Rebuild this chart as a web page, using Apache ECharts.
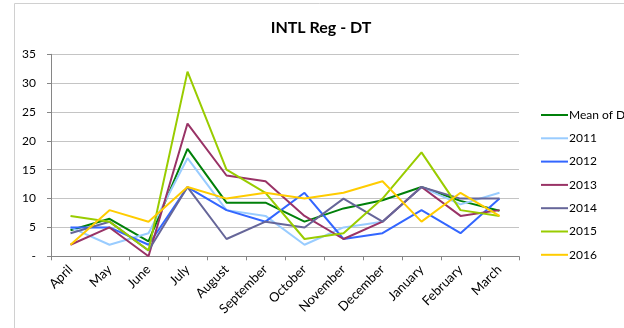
<!DOCTYPE html>
<html>
<head>
<meta charset="utf-8">
<script src="https://cdn.jsdelivr.net/npm/echarts@6/dist/echarts.min.js"></script>
<style>
  html, body { margin: 0; padding: 0; background: #fff; }
  #chart { width: 624px; height: 328px; }
</style>
</head>
<body>
<div id="chart"></div>
<script>
// Monthly values by fiscal year, April to March
const months = ['April', 'May', 'June', 'July', 'August', 'September', 'October',
                'November', 'December', 'January', 'February', 'March'];
const meanOfDT = [4.5, 6.5, 2.6, 18.6, 9.3, 9.3, 6.0, 8.3, 9.7, 12.0, 9.6, 7.9];
const y2011 = [5, 2, 4, 17, 8, 7, 2, 5, 6, 12, 9, 11];
const y2012 = [5, 5, 2, 12, 8, 6, 11, 3, 4, 8, 4, 10];
const y2013 = [2, 5, 0, 23, 14, 13, 7, 3, 6, 12, 7, 8];
const y2014 = [4, 6, 1, 12, 3, 6, 5, 10, 6, 12, 10, 10];
const y2015 = [7, 6, 1, 32, 15, 11, 3, 4, 10, 18, 8, 7];
const y2016 = [2, 8, 6, 12, 10, 11, 10, 11, 13, 6, 11, 7];
const yTicks = [0, 5, 10, 15, 20, 25, 30, 35];

const FONT = 'Lato, "Open Sans", sans-serif';

const seriesDefs = [
  { name: 'Mean of DT', data: meanOfDT, color: '#00800a' },
  { name: '2011', data: y2011, color: '#99ccff' },
  { name: '2012', data: y2012, color: '#3366ff' },
  { name: '2013', data: y2013, color: '#993366' },
  { name: '2014', data: y2014, color: '#666699' },
  { name: '2015', data: y2015, color: '#99cc00' },
  { name: '2016', data: y2016, color: '#ffcc00' }
];

const chart = echarts.init(document.getElementById('chart'), null, { renderer: 'canvas' });

chart.setOption({
  animation: false,
  backgroundColor: '#ffffff',
  textStyle: { fontFamily: FONT },
  title: {
    text: 'INTL Reg - DT',
    left: 316,
    top: 15,
    textAlign: 'center',
    textStyle: { fontFamily: FONT, fontSize: 16, fontWeight: 'bold', color: '#000' }
  },
  graphic: [{
    type: 'rect',
    shape: { x: 14.5, y: 3.5, width: 700, height: 400 },
    style: { fill: 'none', stroke: '#d0d0d0', lineWidth: 1 },
    silent: true,
    z: -1
  }],
  legend: {
    orient: 'vertical',
    left: 536,
    top: 104,
    itemWidth: 27,
    itemHeight: 2,
    itemGap: 11.3,
    icon: 'rect',
    textStyle: { fontFamily: FONT, fontSize: 12, color: '#000', padding: [0, 0, 0, -4] },
    data: seriesDefs.map(s => s.name)
  },
  grid: { left: 51, right: 105, top: 54.3, bottom: 71.7, containLabel: false },
  xAxis: {
    type: 'category',
    data: months,
    boundaryGap: true,
    axisLine: { lineStyle: { color: '#868686', width: 1 } },
    axisTick: { show: true, interval: 0, length: 4, lineStyle: { color: '#868686' } },
    axisLabel: {
      interval: 0, rotate: 45, margin: 11,
      fontFamily: FONT, fontSize: 13, color: '#000'
    }
  },
  yAxis: {
    type: 'value',
    min: yTicks[0],
    max: yTicks[yTicks.length - 1],
    interval: 5,
    axisLine: { show: true, lineStyle: { color: '#868686', width: 1 } },
    axisTick: { show: true, length: 4, lineStyle: { color: '#868686' } },
    splitLine: { show: true, lineStyle: { color: '#c4c4c4', width: 1 } },
    axisLabel: {
      margin: 15,
      fontFamily: FONT, fontSize: 12, color: '#000',
      formatter: v => (v === 0 ? '-' : String(v))
    }
  },
  series: seriesDefs.map(s => ({
    name: s.name,
    type: 'line',
    data: s.data,
    symbol: 'none',
    lineStyle: { color: s.color, width: 2 },
    itemStyle: { color: s.color },
    emphasis: { disabled: true }
  }))
});
</script>
</body>
</html>
